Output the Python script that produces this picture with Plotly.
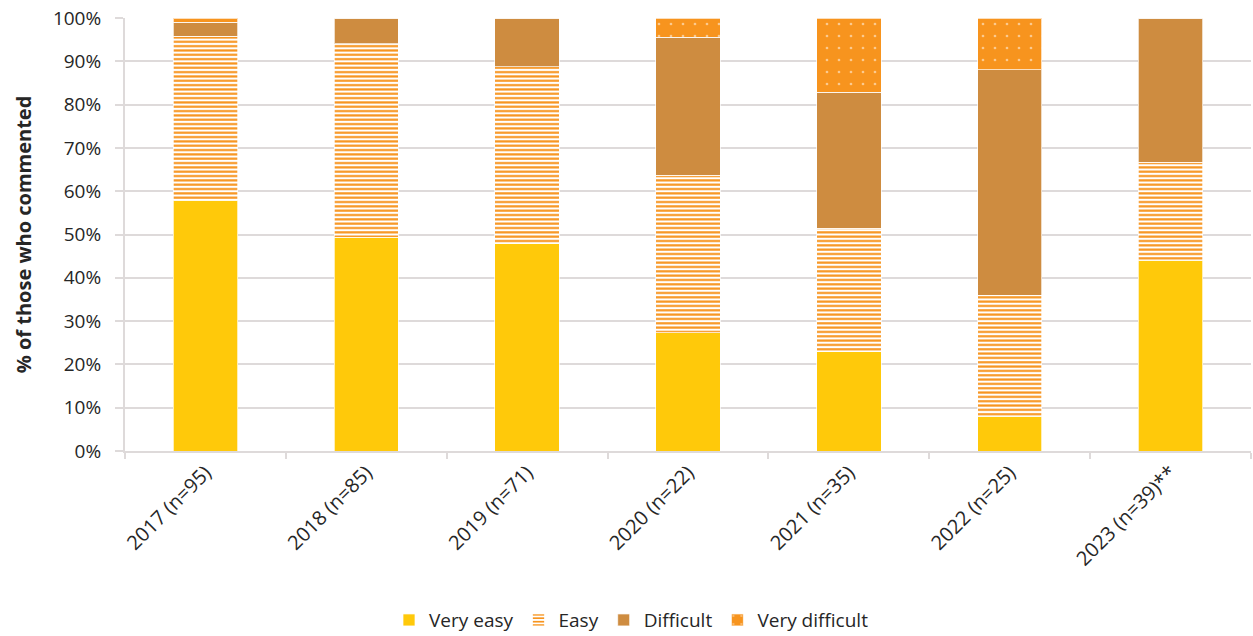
import plotly.graph_objects as go

categories = ["2017 (n=95)", "2018 (n=85)", "2019 (n=71)", "2020 (n=22)",
              "2021 (n=35)", "2022 (n=25)", "2023 (n=39)**"]
very_easy = [57.9, 49.4, 47.9, 27.3, 22.9, 8.0, 44.1]
easy = [37.9, 44.7, 40.8, 36.4, 28.6, 28.0, 22.6]
difficult = [3.2, 5.9, 11.3, 31.8, 31.4, 52.0, 33.3]
very_difficult = [1.0, 0.0, 0.0, 4.5, 17.1, 12.0, 0.0]
y_ticks = [0, 10, 20, 30, 40, 50, 60, 70, 80, 90, 100]
y_labels = [f"{v}%" for v in y_ticks]

YELLOW = "#FFC90A"
ORANGE = "#F7941E"
TAN = "#CE8C40"
GRID = "#DEDADA"
FONT = "Open Sans"
TXT = "#262626"

fig = go.Figure()
line = dict(width=1, color="rgba(255,255,255,0.7)")
fig.add_trace(go.Bar(name="Very easy", x=categories, y=very_easy,
                     marker=dict(color=YELLOW, line=line)))
fig.add_trace(go.Bar(name="Easy", x=categories, y=easy,
                     marker=dict(color=ORANGE, line=line,
                                 pattern=dict(shape="-", fillmode="replace",
                                              bgcolor="white", fgcolor=ORANGE,
                                              size=4.33, solidity=0.5))))
fig.add_trace(go.Bar(name="Difficult", x=categories, y=difficult,
                     marker=dict(color=TAN, line=line)))
fig.add_trace(go.Bar(name="Very difficult", x=categories, y=very_difficult,
                     marker=dict(color=ORANGE, line=line,
                                 pattern=dict(shape=".", fillmode="overlay",
                                              bgcolor=ORANGE, fgcolor="white",
                                              size=12, solidity=0.04))))

fig.update_layout(
    barmode="stack",
    bargap=0.6,
    width=1253, height=636,
    margin=dict(l=125, r=2, t=18, b=185),
    paper_bgcolor="white", plot_bgcolor="white",
    font=dict(family=FONT, size=19, color=TXT),
    showlegend=True,
    legend=dict(orientation="h", xref="container", x=0.504, xanchor="center",
                yref="container", y=0.025, yanchor="middle",
                font=dict(size=19, color=TXT), traceorder="normal",
                itemwidth=30),
    xaxis=dict(tickangle=-45, ticks="outside", tickson="boundaries",
               ticklen=6, tickcolor=GRID, tickwidth=2,
               showline=True, linecolor=GRID, linewidth=2,
               showgrid=False, tickfont=dict(size=20, color=TXT)),
    yaxis=dict(range=[0, 100], tickvals=y_ticks, ticktext=y_labels,
               showgrid=True, gridcolor=GRID, gridwidth=2,
               ticks="outside", ticklen=8, tickcolor=GRID, tickwidth=2,
               showline=True, linecolor=GRID, linewidth=2,
               ticklabelstandoff=10,
               zeroline=False,
               tickfont=dict(size=19, color=TXT),
               title=dict(text="<b>% of those who commented</b>",
                          font=dict(size=20, color=TXT), standoff=16)),
)

fig.write_html("out.html")
